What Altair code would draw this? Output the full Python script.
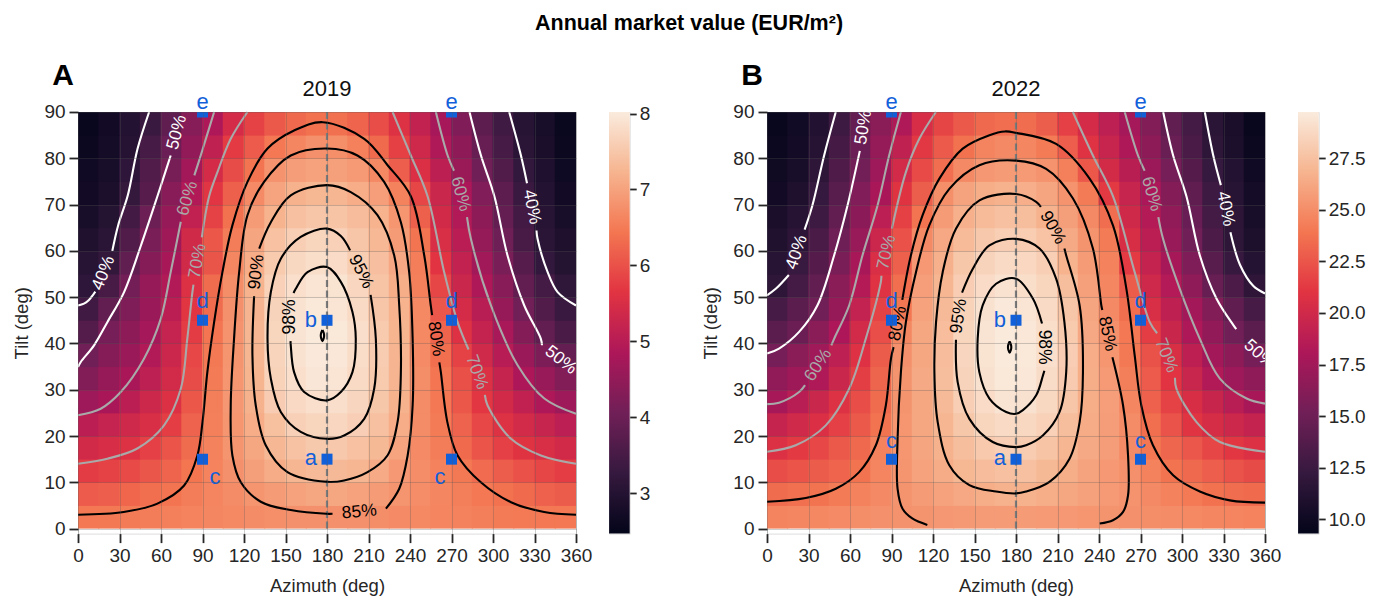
import altair as alt
import pandas as pd

FONT = "Liberation Sans"
INK = "#262626"
BLUE = "#1260d9"

# ---------------------------------------------------------------- data
AZ_CENTERS = [7.5, 22.5, 37.5, 52.5, 67.5, 82.5, 97.5, 112.5, 127.5, 142.5, 157.5, 172.5,
              187.5, 202.5, 217.5, 232.5, 247.5, 262.5, 277.5, 292.5, 307.5, 322.5, 337.5, 352.5]
TILT_CENTERS = [2.5, 7.5, 12.5, 17.5, 22.5, 27.5, 32.5, 37.5, 42.5,
                47.5, 52.5, 57.5, 62.5, 67.5, 72.5, 77.5, 82.5, 87.5]

# annual market value in % of the optimum, one row per tilt band (bottom -> top)
PCT_2019 = [
    [80.5, 80.7, 81.0, 81.4, 81.8, 82.3, 82.8, 83.3, 83.8, 84.2, 84.4, 84.5, 84.5, 84.3, 84.0, 83.6, 83.2, 82.6, 82.1, 81.6, 81.2, 80.9, 80.6, 80.5],
    [76.2, 76.8, 77.8, 79.0, 80.0, 81.4, 82.6, 83.8, 85.1, 86.3, 87.3, 88.0, 88.0, 87.3, 86.3, 85.2, 83.9, 82.7, 81.6, 80.6, 79.7, 78.4, 77.3, 76.4],
    [71.7, 72.5, 73.8, 75.5, 77.5, 80.2, 82.3, 84.5, 86.8, 88.8, 90.4, 91.2, 91.1, 90.4, 88.6, 85.6, 83.9, 82.2, 80.7, 78.6, 76.6, 74.7, 73.1, 71.8],
    [67.3, 68.4, 69.5, 72.3, 75.2, 78.8, 82.2, 85.2, 88.1, 90.7, 92.6, 93.8, 93.7, 92.5, 91.0, 87.5, 83.6, 81.4, 78.5, 75.2, 72.3, 70.2, 68.6, 67.3],
    [62.9, 64.9, 66.8, 68.7, 71.8, 77.4, 81.8, 85.4, 89.0, 92.2, 95.2, 96.0, 96.2, 95.0, 92.3, 89.0, 83.7, 81.0, 77.4, 73.5, 69.5, 67.4, 65.3, 63.2],
    [58.0, 59.9, 63.0, 66.3, 69.4, 75.8, 81.6, 85.5, 89.8, 94.5, 96.8, 97.8, 97.7, 96.1, 93.5, 89.8, 83.8, 80.5, 75.8, 70.9, 67.3, 64.0, 60.8, 58.0],
    [53.5, 56.9, 59.9, 63.5, 67.5, 74.0, 81.2, 85.3, 90.1, 95.5, 97.9, 99.1, 98.9, 96.9, 94.2, 90.2, 84.1, 80.1, 74.6, 69.3, 65.0, 60.4, 57.0, 53.5],
    [50.5, 53.9, 57.4, 61.3, 66.1, 73.4, 80.7, 85.1, 90.5, 95.8, 98.4, 99.7, 99.3, 97.5, 94.4, 90.2, 83.6, 79.1, 72.6, 67.1, 62.3, 57.4, 52.5, 48.5],
    [45.8, 51.4, 55.2, 59.1, 64.9, 71.6, 80.1, 84.8, 90.4, 96.0, 98.6, 99.9, 99.5, 97.7, 94.2, 90.1, 83.2, 77.6, 69.8, 64.8, 59.8, 53.8, 48.3, 44.3],
    [42.7, 48.2, 52.9, 57.4, 63.0, 70.6, 78.7, 84.3, 90.2, 95.7, 98.3, 99.4, 98.9, 97.0, 93.4, 90.0, 83.3, 75.7, 67.9, 62.5, 56.7, 50.5, 45.5, 41.5],
    [39.2, 43.8, 51.2, 56.8, 61.3, 69.3, 78.8, 84.0, 89.9, 95.3, 97.8, 98.8, 98.5, 96.2, 93.0, 89.1, 81.9, 73.3, 66.0, 60.7, 54.4, 48.3, 43.2, 39.5],
    [37.9, 40.2, 48.1, 54.0, 59.7, 67.2, 75.4, 82.9, 89.0, 94.0, 96.6, 97.6, 97.2, 94.7, 92.1, 88.2, 81.5, 70.4, 64.4, 58.5, 52.0, 46.1, 40.0, 37.5],
    [36.5, 38.8, 45.3, 52.2, 58.2, 67.2, 75.8, 81.4, 87.8, 92.5, 94.8, 96.0, 95.3, 93.2, 90.9, 86.2, 80.0, 68.8, 62.7, 56.4, 50.2, 43.9, 38.5, 36.3],
    [35.2, 37.5, 43.0, 49.9, 56.9, 64.1, 72.5, 79.7, 86.3, 90.0, 92.3, 93.4, 93.0, 91.6, 89.9, 85.4, 77.0, 67.3, 61.4, 55.1, 48.6, 43.0, 38.0, 35.0],
    [34.0, 35.6, 40.5, 46.4, 54.3, 61.4, 70.7, 77.1, 83.6, 87.5, 89.8, 90.6, 90.4, 89.0, 86.6, 82.2, 73.1, 66.0, 60.1, 53.3, 47.5, 41.5, 37.2, 34.0],
    [33.5, 35.2, 39.2, 45.4, 51.8, 58.7, 67.6, 74.1, 80.0, 84.9, 86.5, 87.2, 87.0, 86.0, 83.2, 76.7, 69.0, 63.3, 57.3, 50.8, 45.4, 40.0, 36.2, 33.2],
    [32.5, 34.3, 37.8, 43.6, 49.6, 56.3, 63.9, 71.4, 76.3, 80.5, 83.0, 84.3, 84.2, 82.0, 78.4, 72.4, 66.7, 61.1, 55.5, 49.1, 43.6, 38.8, 35.3, 32.3],
    [31.8, 34.0, 37.2, 41.5, 47.8, 54.2, 60.8, 67.8, 72.5, 76.0, 78.3, 79.6, 79.4, 77.5, 74.2, 69.5, 64.5, 59.4, 53.2, 47.5, 42.3, 38.0, 35.0, 32.2],
]

PCT_2022 = [
    [82.6, 82.9, 83.3, 83.7, 84.1, 84.5, 84.8, 85.2, 85.6, 85.9, 86.2, 86.3, 86.3, 86.1, 85.8, 85.4, 85.1, 84.6, 84.2, 83.8, 83.4, 83.0, 82.7, 82.5],
    [78.9, 79.5, 80.0, 81.2, 82.3, 83.6, 85.2, 86.3, 87.3, 88.3, 89.2, 89.9, 89.9, 89.2, 88.2, 87.2, 86.0, 84.9, 83.6, 82.3, 81.0, 79.8, 79.1, 78.6],
    [74.3, 75.4, 76.6, 77.8, 80.0, 82.7, 85.3, 87.4, 89.0, 90.7, 91.7, 92.4, 92.3, 91.0, 89.3, 87.5, 85.8, 84.6, 82.3, 79.9, 78.4, 76.9, 75.3, 74.1],
    [69.6, 71.4, 73.7, 76.1, 78.4, 82.2, 85.5, 87.8, 89.8, 92.0, 93.9, 94.8, 94.5, 93.1, 90.6, 88.5, 86.6, 83.7, 80.6, 78.1, 75.8, 73.5, 71.2, 69.6],
    [65.3, 67.3, 69.3, 72.4, 76.2, 80.0, 85.5, 88.1, 90.5, 93.5, 96.0, 96.9, 96.6, 95.3, 91.9, 88.9, 86.6, 83.8, 79.2, 75.2, 70.7, 68.4, 66.6, 65.0],
    [59.8, 62.8, 66.3, 69.8, 74.3, 78.9, 85.2, 88.2, 91.3, 95.0, 97.2, 98.7, 98.3, 96.6, 93.4, 89.2, 86.7, 82.9, 77.5, 72.7, 68.7, 65.8, 62.8, 59.9],
    [56.2, 58.2, 61.4, 66.3, 72.2, 77.9, 85.2, 88.5, 92.0, 95.8, 98.3, 99.5, 99.2, 97.3, 94.3, 89.2, 86.1, 81.8, 76.4, 70.6, 66.0, 61.6, 58.4, 56.0],
    [51.7, 55.1, 58.6, 63.8, 70.0, 76.6, 84.7, 88.1, 91.7, 96.1, 98.5, 99.8, 99.4, 97.9, 94.7, 89.1, 85.5, 80.9, 75.1, 69.1, 63.7, 59.1, 55.5, 51.8],
    [47.3, 49.9, 55.2, 60.8, 67.6, 74.7, 83.2, 88.1, 91.8, 96.0, 98.6, 99.9, 99.3, 97.6, 94.1, 88.3, 84.5, 80.7, 72.0, 66.1, 61.1, 56.6, 51.1, 47.5],
    [43.9, 47.2, 51.1, 57.0, 64.8, 72.7, 80.6, 87.4, 91.3, 95.5, 98.3, 99.6, 98.9, 96.9, 93.3, 88.0, 83.6, 79.3, 68.8, 63.9, 59.0, 53.9, 48.2, 44.0],
    [39.6, 43.7, 48.7, 55.1, 62.0, 70.2, 79.3, 86.7, 90.5, 94.7, 97.2, 98.4, 97.6, 96.0, 91.9, 87.0, 83.1, 76.6, 67.0, 61.8, 55.9, 49.5, 44.9, 39.9],
    [38.4, 41.7, 46.4, 52.6, 59.9, 68.9, 77.1, 85.7, 89.6, 93.5, 95.8, 97.0, 96.5, 95.0, 90.1, 86.2, 82.2, 71.6, 65.0, 59.8, 53.2, 47.1, 41.4, 38.0],
    [37.0, 39.3, 44.7, 50.4, 57.5, 66.5, 75.0, 83.6, 88.3, 91.5, 93.7, 94.9, 94.6, 92.8, 88.5, 85.1, 81.2, 68.7, 63.2, 57.4, 51.0, 45.0, 39.5, 36.5],
    [35.8, 38.2, 42.4, 48.6, 55.3, 63.4, 72.6, 80.1, 86.3, 89.7, 91.5, 92.4, 92.0, 89.9, 86.8, 83.5, 79.1, 67.1, 61.9, 56.2, 49.6, 43.6, 39.3, 35.5],
    [34.5, 36.8, 41.3, 47.0, 53.7, 60.2, 70.4, 76.8, 84.4, 87.5, 89.2, 89.8, 89.4, 88.0, 85.0, 81.4, 71.4, 65.5, 60.6, 54.2, 48.1, 42.4, 38.3, 34.8],
    [33.8, 35.6, 39.6, 45.4, 51.5, 58.4, 67.6, 74.0, 79.4, 83.5, 85.6, 86.4, 86.0, 84.9, 82.0, 76.0, 67.8, 63.1, 57.9, 51.7, 46.4, 41.3, 37.6, 34.0],
    [32.9, 34.6, 38.2, 43.8, 50.1, 56.7, 64.2, 71.3, 76.3, 79.8, 82.6, 83.6, 83.1, 81.2, 77.0, 70.1, 65.6, 61.1, 55.6, 49.8, 44.6, 39.7, 36.2, 33.0],
    [32.2, 34.3, 37.4, 42.3, 49.1, 55.2, 61.4, 68.6, 73.2, 76.2, 78.4, 79.4, 79.0, 76.8, 72.5, 67.9, 63.8, 59.5, 53.8, 48.5, 43.6, 39.2, 35.8, 32.5],
]

PEAK_2019, PEAK_2022 = 8.02, 29.73          # EUR/m2 at the optimum
CBAR_2019 = (2.47, 8.02)
CBAR_2022 = (9.31, 29.73)
CBAR_TICKS_2019 = [3, 4, 5, 6, 7, 8]
CBAR_TICKS_2022 = [10.0, 12.5, 15.0, 17.5, 20.0, 22.5, 25.0, 27.5]

# iso-lines (azimuth, tilt); a line is broken where its label sits
CONTOURS_2019 = [
    ("white", [[(51.4, 90), (43, 82), (36, 72), (29, 65.5), (24.8, 60)],
               [(12.5, 51.2), (11.6, 50.8), (7.5, 49.3), (4.3, 48.6), (0, 48.2)]]),
    ("white", [[(67, 80.6), (57.4, 71.8), (45.3, 61), (33.3, 51.1), (21.2, 44.6), (11.6, 39.6), (2, 36), (0, 34.9)]]),
    ("gray", [[(98.4, 90), (88.7, 80.6), (84.1, 76.3)],
              [(74.3, 66.3), (67, 55.4), (59.8, 45.3), (47.7, 36.7), (30.9, 29.5), (16.4, 25.9), (0, 24.5)]]),
    ("gray", [[(122.5, 90), (110.4, 84.2), (100.8, 77), (94.8, 71.8), (89.5, 62.9)],
              [(83.5, 52.7), (82.7, 51.1), (79, 41), (74.3, 30.2), (62.2, 22.3), (42.9, 17.3), (21.2, 15.1), (0, 14)]]),
    ("black", [[(0, 3), (33, 3.6), (57.4, 5.4), (76.7, 9.3), (86.3, 15.8), (90, 23), (93.5, 33.8), (98.4, 44.6),
                (104.4, 55.4), (111.6, 65.5), (122.5, 74.9), (137, 82.1), (156.2, 86), (177, 87.8), (206.9, 84.2),
                (223.8, 78.5), (240.6, 71.8), (250.3, 59), (255, 48.2), (256, 46.1)],
               [(261.2, 35.9), (262.3, 33.8), (267, 23), (274.4, 15.8), (291.2, 10), (313, 5.7), (337, 3.6), (360, 3)]]),
    ("black", [[(222.6, 4.3), (232.2, 8.6), (238.3, 15.8), (241.9, 26.6), (241.9, 41), (239.4, 55.4), (233.4, 66.2),
                (221.3, 74.9), (202, 80.6), (180, 82.1), (153.8, 80.6), (134.5, 74.9), (122.5, 67.7), (116.5, 55.4),
                (112.8, 41), (110.4, 26.6), (111.6, 15.8), (117.7, 10), (132.1, 5.8), (153.8, 4), (179.6, 3.2), (184, 3.2)]]),
    ("black", [[(131, 60.5), (139.4, 66.2), (153.8, 72), (180, 74.2), (197.2, 72.7), (216.5, 67.7), (228.6, 59),
                (232.2, 48.2), (233.4, 33.8), (231, 23), (223.7, 15.8), (209.3, 12.2), (192.4, 10.4), (180, 10.1),
                (151.4, 12.2), (135.7, 18), (128.5, 26.6), (126.1, 37.4), (127.3, 50.2)]]),
    ("black", [[(211.5, 50.5), (215.3, 41), (214.1, 30.2), (206.9, 23.7), (192.4, 20.1), (180, 19.4), (161, 20.9),
                (146.6, 25.2), (139.4, 32.4), (137, 41), (139.4, 51.1), (146.6, 58.3), (161, 63), (180, 64.8),
                (190, 63.2), (196.7, 60.1)]]),
    ("black", [[(155.8, 50.9), (157.4, 51.8), (165.9, 55.4), (180, 56.5), (190, 53.3), (198.4, 46.8), (200.8, 41),
                (198.4, 33.8), (190, 29.5), (180, 27.7), (163.5, 29.5), (156.2, 33.8), (153.8, 39.6), (153.6, 40.5)]]),
    ("black", [[(176.7, 42.9), (177.6, 42.3), (177.9, 41.7), (177.6, 41.1), (176.7, 40.5), (175.8, 41.1),
                (175.5, 41.7), (175.8, 42.3), (176.7, 42.9)]]),
    ("gray", [[(227.4, 90), (240.6, 80.6), (252.7, 71.8), (264.7, 55.4), (274.4, 44.6), (282.3, 38.7)],
              [(294.1, 28.9), (296.1, 26.6), (313, 19.4), (334.6, 15.8), (360, 14)]]),
    ("gray", [[(258.7, 90), (267.2, 80.6), (271.8, 77.3)],
              [(281.2, 67.3), (284, 62.6), (298.5, 48.2), (317.8, 35.3), (337.1, 28.1), (360, 24.8)]]),
    ("white", [[(283, 90), (291.3, 80.6), (301, 71.8), (310.5, 59), (322.6, 48.2), (334.6, 41), (335.4, 39.6)]]),
    ("white", [[(311.7, 90), (320.2, 80.6), (324.6, 74.6)],
               [(331.4, 64.4), (332.2, 62.6), (339.5, 55.4), (346.7, 51.1), (360, 48.2)]]),
]

CONTOURS_2022 = [
    ("white", [[(49.7, 90), (41.3, 80.6), (32.8, 69.8), (27.2, 64.6)],
               [(15.8, 54.8), (6.3, 51.8), (0, 50.4)]]),
    ("white", [[(67.1, 81.6), (58.2, 69.8), (48.5, 59), (36.4, 48.2), (23.2, 42.5), (8.7, 38.9), (0, 37.8)]]),
    ("gray", [[(96.8, 90), (88.3, 80.6), (79.9, 69.8), (69, 59), (59.4, 48.2), (48.5, 41), (46.5, 39.6)],
              [(27.5, 31), (23.2, 29.5), (8.7, 27.2), (0, 26.9)]]),
    ("gray", [[(122.1, 90), (110.1, 84.2), (100.4, 77), (90.3, 64.8)],
              [(82.7, 54.6), (82.3, 53.3), (71.4, 41), (59.4, 30.2), (42.5, 22.3), (20.8, 18), (0, 16.6)]]),
    ("black", [[(0, 5.8), (28, 6.6), (49.7, 8.6), (66.6, 12.2), (78.7, 18), (85.9, 26.6), (89.6, 36.7), (91.5, 39.2)],
               [(97.8, 49.4), (104, 59), (112.5, 67.7), (124.6, 75.6), (141.5, 82.1), (160.8, 85), (172, 85.8),
                (180, 85.5), (209, 83.1), (233.2, 75.6), (250.1, 65.5), (259.8, 51.8), (265.8, 37.4), (270.6, 26.6),
                (279, 18), (293.6, 11.5), (312.9, 8), (334.6, 6.1), (360, 5.6)]]),
    ("black", [[(115.9, 0.8), (105, 2.2), (98, 4.3), (94.4, 8.6), (94.4, 19.4), (96.8, 33.8), (100.4, 44.6),
                (107.7, 55.4), (117.3, 65.5), (131.8, 73.4), (153.5, 78.5), (180, 79.5), (201.8, 77.7),
                (221.2, 71.3), (235.6, 60.5), (241.7, 48.2), (242.4, 47.2)],
               [(249.7, 37), (257.4, 26.6), (261, 15.8), (261, 7.2), (257.4, 3.6), (250.1, 1.8), (240.5, 1.1)]]),
    ("black", [[(215, 60.5), (216.3, 59), (226, 48.2), (228.4, 33.8), (226, 23), (218.7, 15.1), (204.2, 10.1),
                (187.3, 8), (180, 7.6), (165.6, 8), (146.3, 9.4), (131.8, 13.7), (123.4, 23), (121, 33.8),
                (122.2, 44.6), (127, 55.4), (136.6, 64.8), (153.6, 70.9), (180, 72.3), (194.6, 70.6), (198, 69.5)]]),
    ("black", [[(141, 51), (148.7, 56.1), (160.8, 61.2), (180, 62.6), (197, 60.5), (209, 54), (215, 44.6),
                (216.3, 33.8), (211.5, 25.2), (199.4, 20.1), (187.3, 18), (180, 17.6), (163.2, 18.7),
                (146.3, 23.7), (137.8, 31.7), (136.6, 40.8)]]),
    ("black", [[(200.5, 34.1), (199.4, 33), (194.6, 28.8), (185, 25.6), (180, 24.8), (172.9, 25.2), (160.8, 28.1),
                (153.5, 33.8), (152.3, 41), (155.9, 48.2), (165.6, 52.9), (180, 54), (192.2, 49.7), (198.8, 44.3)]]),
    ("black", [[(175.4, 40.4), (176.3, 39.8), (176.6, 39.2), (176.3, 38.6), (175.4, 38.0), (174.5, 38.6),
                (174.2, 39.2), (174.5, 39.8), (175.4, 40.4)]]),
    ("gray", [[(221.1, 90), (235.6, 80.6), (250.1, 71.8), (265.8, 55.4), (276.7, 44.6), (282, 42.2)],
              [(294.9, 32.6), (296, 30.2), (310.5, 23), (327.4, 18.7), (360, 16.6)]]),
    ("gray", [[(258.6, 90), (268.2, 80.6), (273, 77.3)],
              [(282.9, 67.3), (286.3, 62.6), (298.4, 51.8), (312.9, 41), (327.4, 32.4), (346.7, 28.1), (360, 27)]]),
    ("white", [[(286.4, 90), (293.6, 80.6), (303.2, 71.8), (312.9, 59), (324.9, 49.7), (337, 44), (339.2, 43.1)]]),
    ("white", [[(316.5, 90), (322.6, 80.6), (328.1, 74.2)],
               [(335, 64), (341.9, 57), (351.6, 52.4), (360, 50.8)]]),
]

# inline labels: text, azimuth, tilt, rotation, tone
LABELS_2019 = [
    ("40%", 18.5, 55.2, 291.4, "white"), ("50%", 71.5, 85.6, 285.1, "white"),
    ("60%", 79.2, 71.3, 286.6, "gray"), ("70%", 86.5, 57.8, 279.9, "gray"),
    ("90%", 129.0, 55.4, 276.6, "black"), ("98%", 153.5, 45.7, 270.0, "black"),
    ("95%", 204.5, 55.5, 63.3, "black"), ("80%", 258.6, 41.0, 81.5, "black"),
    ("85%", 203.3, 3.6, 354.5, "black"), ("70%", 288.2, 33.8, 70.2, "gray"),
    ("60%", 276.5, 72.3, 74.4, "gray"), ("50%", 349.0, 36.4, 38.0, "white"),
    ("40%", 328.0, 69.5, 78.7, "white"),
]
LABELS_2022 = [
    ("40%", 21.5, 59.7, 289.3, "white"), ("50%", 69.8, 86.7, 279.0, "white"),
    ("60%", 37.0, 35.3, 303.3, "gray"), ("70%", 86.5, 59.7, 282.8, "gray"),
    ("80%", 94.6, 44.3, 280.9, "black"), ("95%", 138.7, 45.9, 278.3, "black"),
    ("90%", 206.5, 65.0, 60.8, "black"), ("98%", 200.3, 39.2, 90.0, "black"),
    ("85%", 246.0, 42.1, 77.7, "black"), ("70%", 288.5, 37.4, 68.3, "gray"),
    ("60%", 278.0, 72.3, 73.3, "gray"), ("50%", 356.0, 37.6, 42.0, "white"),
    ("40%", 331.5, 69.1, 78.7, "white"),
]

# marked orientations
MARK_AZ = [90, 270, 90, 270, 180, 180, 90, 270]
MARK_TILT = [90, 90, 45, 45, 45, 15, 15, 15]
MARK_NAME = ["e", "e", "d", "d", "b", "a", "c", "c"]

X_TICKS = [0, 30, 60, 90, 120, 150, 180, 210, 240, 270, 300, 330, 360]
Y_TICKS = [0, 10, 20, 30, 40, 50, 60, 70, 80, 90]

# ---------------------------------------------------------------- style
PLOT_W, PLOT_H, CBAR_W = 498, 421.6, 20.6
TILT_DOMAIN = [-1.08, 90]
CELL_AZ, CELL_TILT = 15, 5
SEAM_AZ, SEAM_TILT = 0.35, 0.1          # tiny overlap so neighbouring cells leave no hairline
ROCKET_POS = [0, 1 / 7, 2 / 7, 3 / 7, 4 / 7, 5 / 7, 6 / 7, 1]
ROCKET = ["#03051a", "#35193e", "#701f57", "#ad1759", "#e13342", "#f37651", "#f6b48f", "#faebdd"]
TONES = alt.Scale(domain=["black", "gray", "white"], range=["#000000", "#a9a9a9", "#ffffff"])

# letter placement per marker: (align, dx, dy)
LETTER_STYLE_2019 = [("center", 0, -3), ("center", 0, -3), ("center", 0, -12), ("center", 0, -12),
                     ("right", -10, 6.5), ("right", -10, 6), ("left", 7, 25), ("right", -6, 25)]
LETTER_STYLE_2022 = [("center", 0, -3), ("center", 0, -3), ("center", 0, -12), ("center", 0, -12),
                     ("right", -10, 6.5), ("right", -10, 6), ("center", 0, -11), ("center", 0, -11)]


def heat_frame(pct_rows, peak):
    rows = []
    for t, row in zip(TILT_CENTERS, pct_rows):
        for a, p in zip(AZ_CENTERS, row):
            rows.append({"a0": max(0.0, a - CELL_AZ / 2 - SEAM_AZ), "a1": min(360.0, a + CELL_AZ / 2 + SEAM_AZ),
                         "t0": max(0.0, t - CELL_TILT / 2 - SEAM_TILT), "t1": min(90.0, t + CELL_TILT / 2 + SEAM_TILT),
                         "value": p * peak / 100.0})
    return pd.DataFrame(rows)


def contour_frame(contours):
    rows, seg = [], 0
    for tone, parts in contours:
        for part in parts:
            for k, (a, t) in enumerate(part):
                rows.append({"az": a, "tilt": t, "seg": seg, "k": k, "tone": tone})
            seg += 1
    return pd.DataFrame(rows)


def label_frame(labels):
    return pd.DataFrame(labels, columns=["txt", "az", "tilt", "angle", "tone"])


def panel(tag, year, pct_rows, peak, cbar, contours, labels, letter_style):
    lo, hi = cbar
    xs = alt.Scale(domain=[0, 360], nice=False, zero=False)
    ys = alt.Scale(domain=TILT_DOMAIN, nice=False, zero=False)
    cs = alt.Scale(domain=[lo + f * (hi - lo) for f in ROCKET_POS], range=ROCKET, interpolate="rgb")
    common = dict(labelFontSize=19, titleFontSize=18.5, labelColor=INK, titleColor=INK,
                  tickColor=INK, tickSize=9, tickWidth=1.8, domain=False, grid=True,
                  gridColor="#5a5a5a", gridOpacity=0.3, gridWidth=1, zindex=1,
                  labelFont=FONT, titleFont=FONT, titleFontWeight="normal",
                  labelOverlap=False, labelFlush=False)
    x_axis = alt.Axis(values=X_TICKS, title="Azimuth (deg)", labelPadding=4, titlePadding=11,
                      labelAngle=0, **common)
    y_axis = alt.Axis(values=Y_TICKS, title="Tilt (deg)", labelPadding=4, titlePadding=12, **common)

    def X(field):
        return alt.X(field, scale=xs, axis=x_axis)

    def Y(field):
        return alt.Y(field, scale=ys, axis=y_axis)

    heat = alt.Chart(heat_frame(pct_rows, peak)).mark_rect(strokeWidth=0).encode(
        x=X("a0:Q"), x2="a1:Q", y=Y("t0:Q"), y2="t1:Q",
        color=alt.Color("value:Q", scale=cs, legend=None),
    )

    south = alt.Chart(pd.DataFrame({"az": [180], "t0": [0], "t1": [90]})).mark_rule(
        color="#7b7b7b", strokeWidth=2.2, strokeDash=[7, 3.5]
    ).encode(x=X("az:Q"), y=Y("t0:Q"), y2="t1:Q")

    lines = alt.Chart(contour_frame(contours)).mark_line(strokeWidth=2.1, interpolate="catmull-rom").encode(
        x=X("az:Q"), y=Y("tilt:Q"), detail="seg:N", order="k:Q",
        color=alt.Color("tone:N", scale=TONES, legend=None),
    )

    texts = alt.Chart(label_frame(labels)).mark_text(
        font=FONT, fontSize=17.5, align="center", baseline="middle", clip=True
    ).encode(
        x=X("az:Q"), y=Y("tilt:Q"), text="txt:N",
        angle=alt.Angle("angle:Q", scale=None),
        color=alt.Color("tone:N", scale=TONES, legend=None),
    )

    marks = pd.DataFrame({"az": MARK_AZ, "tilt": MARK_TILT, "name": MARK_NAME})
    squares = alt.Chart(marks).mark_square(size=121, color=BLUE, opacity=1, clip=True).encode(
        x=X("az:Q"), y=Y("tilt:Q"))

    layers = [heat, south, lines, texts, squares]
    for i, (align, dx, dy) in enumerate(letter_style):
        one = marks.iloc[[i]]
        layers.append(alt.Chart(one).mark_text(
            font=FONT, fontSize=22, color=BLUE, align=align, baseline="alphabetic", dx=dx, dy=dy
        ).encode(x=X("az:Q"), y=Y("tilt:Q"), text="name:N"))

    head = pd.DataFrame({"tag": [tag], "year": [year]})
    layers.append(alt.Chart(head).mark_text(
        font=FONT, fontSize=30, fontWeight="bold", color="#000000", align="left", baseline="alphabetic"
    ).encode(x=alt.value(-25.7), y=alt.value(-26.7), text="tag:N"))
    layers.append(alt.Chart(head).mark_text(
        font=FONT, fontSize=22, color="#111111", align="center", baseline="alphabetic"
    ).encode(x=alt.value(PLOT_W / 2), y=alt.value(-16), text="year:N"))

    return alt.layer(*layers).properties(width=PLOT_W, height=PLOT_H)


def colorbar(cbar, ticks, fmt):
    lo, hi = cbar
    grad = {"gradient": "linear", "x1": 0, "y1": 1, "x2": 0, "y2": 0,
            "stops": [{"offset": f, "color": c} for f, c in zip(ROCKET_POS, ROCKET)]}
    return alt.Chart(pd.DataFrame({"lo": [lo], "hi": [hi]})).mark_rect(fill=grad).encode(
        y=alt.Y("lo:Q", scale=alt.Scale(domain=[lo, hi], nice=False, zero=False),
                axis=alt.Axis(orient="right", values=ticks, format=fmt, title=None, domain=False,
                              grid=False, tickSize=6.5, tickWidth=1.8, tickColor=INK,
                              labelFontSize=19, labelColor=INK, labelPadding=3, labelFont=FONT)),
        y2="hi:Q",
        x=alt.value(0),
        x2=alt.value(CBAR_W),
    ).properties(width=CBAR_W, height=PLOT_H)


left = alt.hconcat(
    panel("A", "2019", PCT_2019, PEAK_2019, CBAR_2019, CONTOURS_2019, LABELS_2019, LETTER_STYLE_2019),
    colorbar(CBAR_2019, CBAR_TICKS_2019, "d"),
    spacing=15.1,
)
right = alt.hconcat(
    panel("B", "2022", PCT_2022, PEAK_2022, CBAR_2022, CONTOURS_2022, LABELS_2022, LETTER_STYLE_2022),
    colorbar(CBAR_2022, CBAR_TICKS_2022, ".1f"),
    spacing=15.1,
)

chart = alt.hconcat(left, right, spacing=50).properties(
    title=alt.TitleParams("Annual market value (EUR/m²)", font=FONT, fontSize=21.5, fontWeight="bold",
                          color="#000000", anchor="middle", offset=26.7),
    padding={"left": 12, "top": 12, "right": 5, "bottom": 5},
).configure_view(stroke=None).configure(background="white")

chart.save("out.html", embed_options={"renderer": "svg", "actions": False})
